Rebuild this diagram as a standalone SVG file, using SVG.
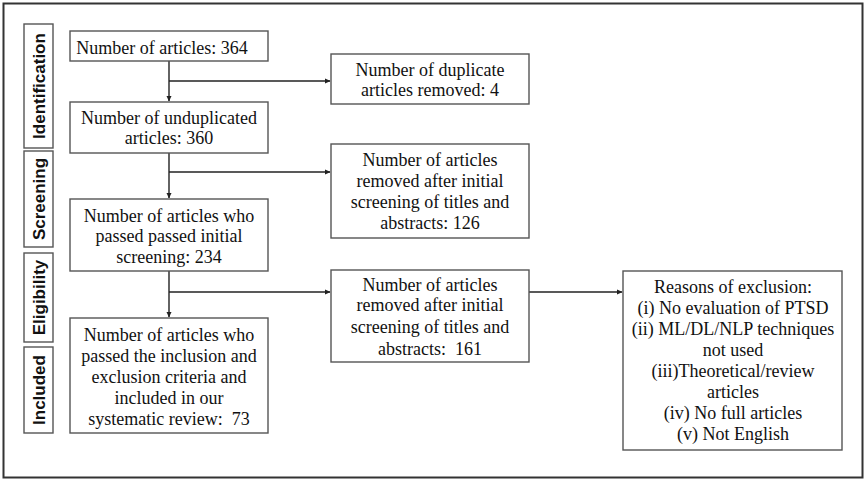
<svg xmlns="http://www.w3.org/2000/svg" width="866" height="481" viewBox="0 0 866 481">
<style>
.box{fill:#fff;stroke:#555;stroke-width:1.4}
.t{font-family:"Liberation Serif","Times New Roman",serif;font-size:18px;fill:#111;text-anchor:middle;white-space:pre}
.side{font-family:"Liberation Sans",Arial,sans-serif;font-size:17px;font-weight:bold;fill:#111;text-anchor:middle}
.ln{fill:none;stroke:#222;stroke-width:1.4}
</style>
<defs>
<marker id="ah" markerWidth="6" markerHeight="6" refX="5" refY="3" orient="auto" markerUnits="userSpaceOnUse">
<path d="M0,0.5 L5.5,3 L0,5.5 Z" fill="#222"/>
</marker>
</defs>
<rect x="0" y="0" width="866" height="481" fill="#fff"/>
<rect x="3.5" y="3.5" width="859" height="474" fill="#fff" stroke="#333" stroke-width="2"/>

<g id="stage-identification">
<rect class="box" x="24" y="24" width="29" height="124"/>
<text class="side" transform="translate(44.5,86) rotate(-90)">Identification</text>
</g>
<g id="stage-screening">
<rect class="box" x="24" y="151" width="29" height="96"/>
<text class="side" transform="translate(44.5,199) rotate(-90)">Screening</text>
</g>
<g id="stage-eligibility">
<rect class="box" x="24" y="253" width="29" height="89"/>
<text class="side" transform="translate(44.5,297.5) rotate(-90)">Eligibility</text>
</g>
<g id="stage-included">
<rect class="box" x="24" y="347" width="29" height="86"/>
<text class="side" transform="translate(44.5,390) rotate(-90)">Included</text>
</g>

<g id="connectors">
<path class="ln" d="M169,61 V101" marker-end="url(#ah)"/>
<path class="ln" d="M169,81 H330" marker-end="url(#ah)"/>
<path class="ln" d="M169,153 V198" marker-end="url(#ah)"/>
<path class="ln" d="M169,172 H330" marker-end="url(#ah)"/>
<path class="ln" d="M169,271 V317" marker-end="url(#ah)"/>
<path class="ln" d="M169,292 H330" marker-end="url(#ah)"/>
<path class="ln" d="M529,292 H622" marker-end="url(#ah)"/>
</g>

<g id="n-articles">
<rect class="box" x="70" y="31" width="198" height="30"/>
<text class="t" x="162" y="54">Number of articles: 364</text>
</g>
<g id="n-unduplicated">
<rect class="box" x="70" y="102" width="198" height="51"/>
<text class="t" x="169" y="124">Number of unduplicated</text>
<text class="t" x="169" y="144">articles: 360</text>
</g>
<g id="n-screened">
<rect class="box" x="70" y="199" width="198" height="72"/>
<text class="t" x="169" y="222">Number of articles who</text>
<text class="t" x="169" y="242">passed passed initial</text>
<text class="t" x="169" y="263">screening: 234</text>
</g>
<g id="n-included">
<rect class="box" x="70" y="318" width="198" height="115"/>
<text class="t" x="169" y="341">Number of articles who</text>
<text class="t" x="169" y="362">passed the inclusion and</text>
<text class="t" x="169" y="383">exclusion criteria and</text>
<text class="t" x="169" y="404">included in our</text>
<text class="t" x="169" y="425">systematic review:  73</text>
</g>
<g id="n-duplicates">
<rect class="box" x="331" y="54" width="198" height="50"/>
<text class="t" x="430" y="76">Number of duplicate</text>
<text class="t" x="430" y="96">articles removed: 4</text>
</g>
<g id="n-removed-126">
<rect class="box" x="331" y="144" width="198" height="94"/>
<text class="t" x="430" y="166">Number of articles</text>
<text class="t" x="430" y="187">removed after initial</text>
<text class="t" x="430" y="208">screening of titles and</text>
<text class="t" x="430" y="229">abstracts: 126</text>
</g>
<g id="n-removed-161">
<rect class="box" x="331" y="270" width="198" height="92"/>
<text class="t" x="430" y="291">Number of articles</text>
<text class="t" x="430" y="311">removed after initial</text>
<text class="t" x="430" y="333">screening of titles and</text>
<text class="t" x="430" y="355">abstracts:  161</text>
</g>
<g id="n-reasons">
<rect class="box" x="623" y="271" width="219" height="179"/>
<text class="t" x="733" y="293">Reasons of exclusion:</text>
<text class="t" x="733" y="314">(i) No evaluation of PTSD</text>
<text class="t" x="733" y="335">(ii) ML/DL/NLP techniques</text>
<text class="t" x="733" y="356">not used</text>
<text class="t" x="733" y="377">(iii)Theoretical/review</text>
<text class="t" x="733" y="398">articles</text>
<text class="t" x="733" y="419">(iv) No full articles</text>
<text class="t" x="733" y="440">(v) Not English</text>
</g>
</svg>
